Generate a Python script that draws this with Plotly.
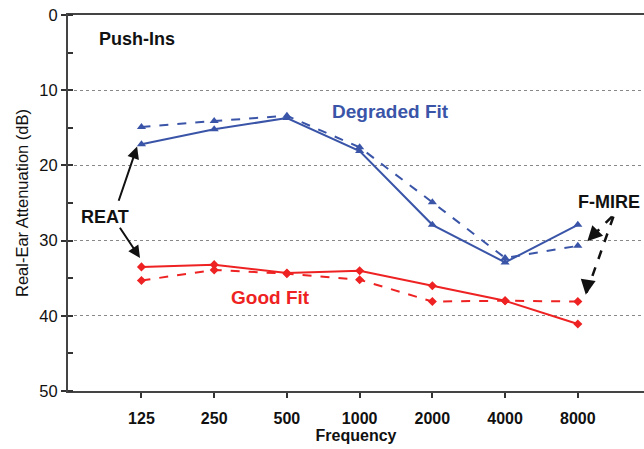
import plotly.graph_objects as go

freqs = ["125", "250", "500", "1000", "2000", "4000", "8000"]
degraded_reat = [17.2, 15.2, 13.7, 18.1, 27.9, 32.9, 27.9]
degraded_fmire = [14.9, 14.1, 13.4, 17.6, 24.9, 32.3, 30.7]
good_reat = [33.5, 33.2, 34.3, 34.0, 36.0, 38.0, 41.1]
good_fmire = [35.3, 33.9, 34.4, 35.2, 38.1, 38.0, 38.1]
y_ticks = [0, 10, 20, 30, 40, 50]

BLUE = "#3a55a8"
RED = "#ee2222"
FONT = "Arial, Liberation Sans"

fig = go.Figure()
fig.add_trace(go.Scatter(x=freqs, y=degraded_reat, mode="lines+markers",
                         line=dict(color=BLUE, width=2),
                         marker=dict(symbol="triangle-up", size=8, color=BLUE)))
fig.add_trace(go.Scatter(x=freqs, y=degraded_fmire, mode="lines+markers",
                         line=dict(color=BLUE, width=2, dash="dash"),
                         marker=dict(symbol="triangle-up", size=8, color=BLUE)))
fig.add_trace(go.Scatter(x=freqs, y=good_reat, mode="lines+markers",
                         line=dict(color=RED, width=2),
                         marker=dict(symbol="diamond", size=7, color=RED)))
fig.add_trace(go.Scatter(x=freqs, y=good_fmire, mode="lines+markers",
                         line=dict(color=RED, width=2, dash="dash"),
                         marker=dict(symbol="diamond", size=7, color=RED)))

bold = dict(family=FONT, size=18, color="#111")
anns = [
    dict(x=-0.06, y=3.2, text="<b>Push-Ins</b>", showarrow=False, font=bold),
    dict(x=3.43, y=12.8, text="<b>Degraded Fit</b>", showarrow=False,
         font=dict(family=FONT, size=19, color=BLUE)),
    dict(x=1.77, y=37.6, text="<b>Good Fit</b>", showarrow=False,
         font=dict(family=FONT, size=19, color=RED)),
    dict(x=-0.50, y=26.9, text="<b>REAT</b>", showarrow=False, font=bold),
    dict(x=6.43, y=24.9, text="<b>F-MIRE</b>", showarrow=False, font=bold),
    # REAT arrows
    dict(x=-0.06, y=17.5, ax=-0.32, ay=24.9, axref="x", ayref="y", text="",
         showarrow=True, arrowhead=2, arrowsize=1.2, arrowwidth=2, arrowcolor="#111"),
    dict(x=-0.02, y=32.3, ax=-0.31, ay=28.1, axref="x", ayref="y", text="",
         showarrow=True, arrowhead=2, arrowsize=1.2, arrowwidth=2, arrowcolor="#111"),
    # F-MIRE arrow heads
    dict(x=6.13, y=30.1, ax=6.20, ay=29.4, axref="x", ayref="y", text="",
         showarrow=True, arrowhead=2, arrowsize=1.2, arrowwidth=2.5, arrowcolor="#111"),
    dict(x=6.11, y=37.2, ax=6.13, ay=36.0, axref="x", ayref="y", text="",
         showarrow=True, arrowhead=2, arrowsize=1.2, arrowwidth=2.5, arrowcolor="#111"),
]

shapes = [
    dict(type="line", xref="x", yref="y", x0=6.47, y0=26.8, x1=6.15, y1=29.9,
         line=dict(color="#111", width=2.5, dash="dash")),
    dict(type="line", xref="x", yref="y", x0=6.49, y0=26.8, x1=6.12, y1=36.9,
         line=dict(color="#111", width=2.5, dash="dash")),
]

fig.update_layout(
    width=644, height=449,
    margin=dict(l=68, r=0, t=15, b=58),
    paper_bgcolor="white", plot_bgcolor="white",
    showlegend=False,
    annotations=anns, shapes=shapes,
    font=dict(family=FONT, color="#111"),
)
fig.update_xaxes(
    type="category", range=[-1.01, 6.91], automargin=False,
    showline=True, linecolor="#444", linewidth=2, mirror=True,
    ticks="outside", ticklen=5, tickcolor="#333", tickwidth=1.5,
    ticklabelstandoff=7,
    tickfont=dict(size=16, family=FONT, color="#111"),
    tickprefix="<b>", ticksuffix="</b>",
    showgrid=False, zeroline=False,
    title=dict(text="<b>Frequency</b>", font=dict(size=16), standoff=4),
)
fig.update_yaxes(
    range=[50, 0], tickvals=y_ticks, automargin=False,
    showline=True, linecolor="#444", linewidth=2,
    ticks="outside", ticklen=5, tickcolor="#333", tickwidth=1.5,
    tickfont=dict(size=16.5, family=FONT, color="#111"),
    tickprefix="<b>", ticksuffix="</b>",
    showgrid=True, gridcolor="#888", griddash="dot", gridwidth=1,
    zeroline=False,
    minor=dict(dtick=5, ticks="inside", ticklen=5, tickcolor="#333", showgrid=False),
    title=dict(text="Real-Ear Attenuation (dB)", font=dict(size=16.5), standoff=7),
)

fig.write_html(
    "out.html",
    config={"displayModeBar": False},
    post_script="document.body.style.margin='0';document.body.style.overflow='hidden';",
)
